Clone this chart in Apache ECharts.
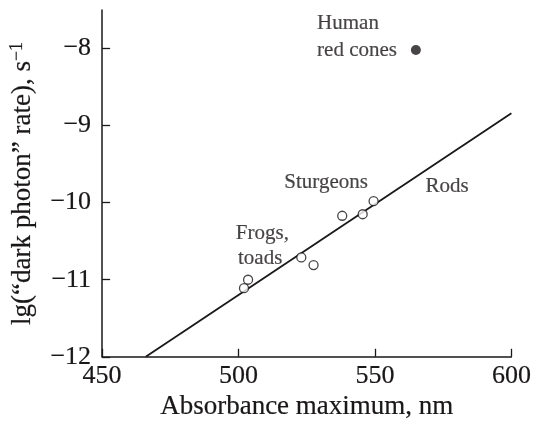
<!DOCTYPE html>
<html>
<head>
<meta charset="utf-8">
<script src="https://cdn.jsdelivr.net/npm/echarts@6/dist/echarts.min.js"></script>
<style>
  html, body { margin: 0; padding: 0; background: #fff; }
  #main { width: 534px; height: 426px; }
</style>
</head>
<body>
<div id="main"></div>
<script>
// rods (open circles)
const rodNm = [502, 503.5, 523, 527.5, 538, 545.5, 549.5];
const rodRate = [-11.11, -11.0, -10.71, -10.81, -10.17, -10.15, -9.98];
// human red cones (filled)
const coneNm = [565];
const coneRate = [-8.02];
// fitted line ends
const fitNm = [466, 600];
const fitRate = [-12, -8.84];
// ticks
const xTicks = [450, 500, 550, 600];
const yTicks = [-12, -11, -10, -9, -8];
// text notes
const noteText = ['Human', 'red cones', 'Sturgeons', 'Rods', 'Frogs,', 'toads'];
const noteNm = [528.8, 528.8, 532.1, 576.4, 499.0, 499.8];
const noteRate = [-7.68, -8.02, -9.74, -9.79, -10.40, -10.72];
const noteAlign = ['left', 'left', 'center', 'center', 'left', 'left'];

const ink = '#1a1718';
const serif = 'Liberation Serif';
const minus = v => String(v).replace('-', '\u2212');
// a hair of stroke so the serif text reads as dark as the scan
const txt = size => ({ fontFamily: serif, fontSize: size, color: ink, textBorderColor: ink, textBorderWidth: 0.2 });

const chart = echarts.init(document.getElementById('main'));
chart.setOption({
  animation: false,
  backgroundColor: '#fff',
  grid: { left: 102, right: 19, top: 10, bottom: 65 },
  xAxis: {
    type: 'value', min: 450, max: 600, interval: 50,
    name: 'Absorbance maximum, nm', nameLocation: 'middle', nameGap: 35,
    nameTextStyle: txt(27),
    axisLine: { lineStyle: { color: ink, width: 1.5 } },
    axisTick: { inside: true, length: 8, lineStyle: { color: ink, width: 1.3 }, customValues: xTicks },
    axisLabel: Object.assign(txt(26), { margin: 6, customValues: xTicks }),
    splitLine: { show: false }
  },
  yAxis: {
    type: 'value', min: -12, max: -7.5, interval: 1,
    name: 'lg(\u201cdark photon\u201d rate), s{sup|\u22121}', nameLocation: 'middle', nameGap: 64,
    nameTextStyle: Object.assign(txt(27), {
      rich: { sup: Object.assign(txt(18), { verticalAlign: 'top', padding: [0, 0, 12, 0] }) }
    }),
    axisLine: { lineStyle: { color: ink, width: 1.5 } },
    axisTick: { inside: true, length: 8, lineStyle: { color: ink, width: 1.3 }, customValues: yTicks },
    axisLabel: Object.assign(txt(26), { margin: 11, customValues: yTicks, formatter: minus }),
    splitLine: { show: false }
  },
  series: [
    {
      type: 'line',
      data: fitNm.map((x, i) => [x, fitRate[i]]),
      showSymbol: false,
      lineStyle: { color: ink, width: 1.8 },
      z: 2
    },
    {
      type: 'scatter',
      data: rodNm.map((x, i) => [x, rodRate[i]]),
      symbol: 'circle', symbolSize: 9,
      itemStyle: { color: '#fff', borderColor: ink, borderWidth: 1.3 },
      z: 3
    },
    {
      type: 'scatter',
      data: coneNm.map((x, i) => [x, coneRate[i]]),
      symbol: 'circle', symbolSize: 10,
      itemStyle: { color: ink },
      z: 3
    },
    {
      type: 'scatter',
      data: noteNm.map((x, i) => ({
        value: [x, noteRate[i]],
        label: { formatter: noteText[i], align: noteAlign[i] }
      })),
      symbolSize: 0,
      itemStyle: { color: ink },
      label: Object.assign(txt(21), { show: true, position: 'inside', verticalAlign: 'middle' }),
      silent: true,
      z: 1
    }
  ]
});
window.addEventListener('resize', function () { chart.resize(); });
</script>
</body>
</html>
